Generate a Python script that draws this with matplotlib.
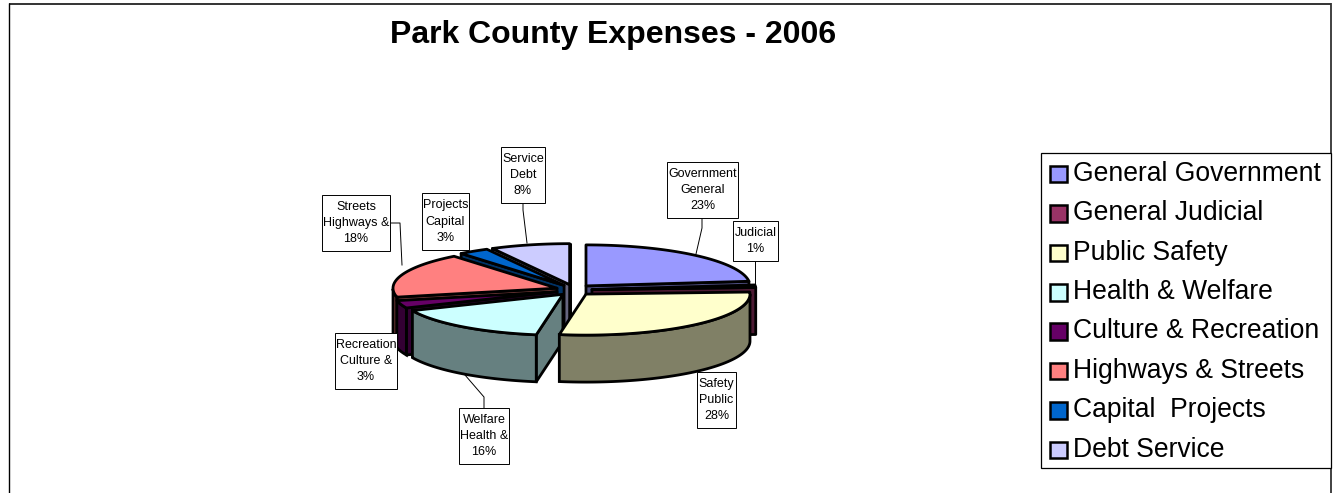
import numpy as np
import matplotlib
matplotlib.use("Agg")
import matplotlib.pyplot as plt
from matplotlib.patches import Polygon, Rectangle

plt.rcParams['font.family'] = ['Liberation Sans', 'DejaVu Sans']

# ---- data ----
categories = ["General Government", "General Judicial", "Public Safety", "Health & Welfare",
              "Culture & Recreation", "Highways & Streets", "Capital  Projects", "Debt Service"]
percentages = [23.2, 1.0, 28.4, 15.9, 3.0, 17.7, 3.0, 7.8]
slice_labels = ["Government\nGeneral\n23%", "Judicial\n1%", "Safety\nPublic\n28%",
                "Welfare\nHealth &\n16%", "Recreation\nCulture &\n3%", "Streets\nHighways &\n18%",
                "Projects\nCapital\n3%", "Service\nDebt\n8%"]
title_text = "Park County Expenses - 2006"

# ---- style ----
top_colors = ["#9999ff", "#993366", "#ffffcc", "#ccffff", "#660066", "#ff8080", "#0066cc", "#ccccff"]
side_colors = ["#4d4d80", "#4d1a33", "#808066", "#668080", "#330033", "#804040", "#003366", "#666680"]
label_boxes = [(667, 162, 738, 218), (733, 221, 778, 261), (697, 372, 736, 428), (459, 408, 509, 464),
               (335, 333, 397, 389), (322, 195, 390, 251), (422, 193, 469, 250), (501, 147, 545, 203)]
leaders = [[(702, 218), (702, 228), (696, 254)], [(755, 261), (755, 290)], None,
           [(484, 408), (484, 397), (465, 375)], None,
           [(390, 223), (400, 223), (402, 265)], None, [(523, 203), (523, 210), (527, 243)]]
draw_order = [7, 6, 0, 5, 1, 4, 3, 2]
CX, CY, RX, RY, DEPTH, EX, EY = 574, 290, 164, 41, 47, 18, 5.5
PIE_LW = 2.0

fig = plt.figure(figsize=(13.38, 4.93), dpi=100)
ax = fig.add_axes([0, 0, 1, 1])
ax.set_xlim(0, 1338)
ax.set_ylim(493, 0)
ax.axis('off')

# frame
ax.plot([8.5, 1331], [3.8, 3.8], color='#333333', lw=1.4, zorder=1, solid_capstyle='butt')
ax.plot([8.5, 8.5], [3, 493], color='black', lw=1.0, zorder=1, solid_capstyle='butt')
ax.plot([1331, 1331], [3, 493], color='#333333', lw=1.3, zorder=1, solid_capstyle='butt')
ax.text(613.5, 35, title_text, ha='center', va='center', fontsize=23, fontweight='bold')

# pie
fractions = np.array(percentages, dtype=float) / sum(percentages)
edges = np.concatenate([[0], np.cumsum(fractions)]) * 2 * np.pi


def wall(a, b, fc, z):
    poly = np.array([a, b, (b[0], b[1] + DEPTH), (a[0], a[1] + DEPTH)])
    ax.add_patch(Polygon(poly, closed=True, fc=fc, ec='black', lw=PIE_LW, joinstyle='round', zorder=z))


z = 2.0
for i in draw_order:
    a0, a1 = edges[i], edges[i + 1]
    mid = (a0 + a1) / 2
    ax0 = CX + EX * np.sin(mid)
    ay0 = CY - EY * np.cos(mid)
    th = np.linspace(a0, a1, max(int((a1 - a0) * 60), 4))
    ox = ax0 + RX * np.sin(th)
    oy = ay0 - RY * np.cos(th)
    apex = (ax0, ay0)
    p0 = (ox[0], oy[0])
    p1 = (ox[-1], oy[-1])
    # a radial wall is drawn only when it faces the viewer
    walls = []
    if (p0[0] - ax0) < 0:
        walls.append((apex, p0))
    if (p1[0] - ax0) > 0:
        walls.append((p1, apex))
    for a, b in walls:
        wall(a, b, side_colors[i], z)
        z += 0.001
    front = np.cos(th) <= 0
    if front.any():
        fx, fy = ox[front], oy[front]
        poly = np.vstack([np.column_stack([fx, fy]), np.column_stack([fx[::-1], fy[::-1] + DEPTH])])
        ax.add_patch(Polygon(poly, closed=True, fc=side_colors[i], ec='black', lw=PIE_LW, zorder=z))
        z += 0.001
    top = np.vstack([[apex], np.column_stack([ox, oy])])
    ax.add_patch(Polygon(top, closed=True, fc=top_colors[i], ec='black', lw=PIE_LW, joinstyle='round', zorder=z))
    z += 0.001

# data labels
for text, box, lead in zip(slice_labels, label_boxes, leaders):
    x0, y0, x1, y1 = box
    if lead:
        ax.plot(*zip(*lead), color='black', lw=0.7, zorder=5)
    ax.add_patch(Rectangle((x0, y0), x1 - x0, y1 - y0, fc='white', ec='black', lw=0.7, zorder=6))
    ax.text((x0 + x1) / 2, (y0 + y1) / 2, text, ha='center', va='center', fontsize=9,
            linespacing=1.45, zorder=7, clip_on=False)

# legend
ax.add_patch(Rectangle((1041, 153), 290, 315, fc='white', ec='black', lw=0.9, zorder=6))
for k, (name, col) in enumerate(zip(categories, top_colors)):
    yc = 173.8 + k * 39.4
    ax.add_patch(Rectangle((1050, yc - 8), 16.5, 16.5, fc=col, ec='black', lw=1.8, zorder=7))
    ax.text(1073, yc, name, ha='left', va='center', fontsize=19.1, zorder=7)

fig.savefig("out.png", dpi=100)
